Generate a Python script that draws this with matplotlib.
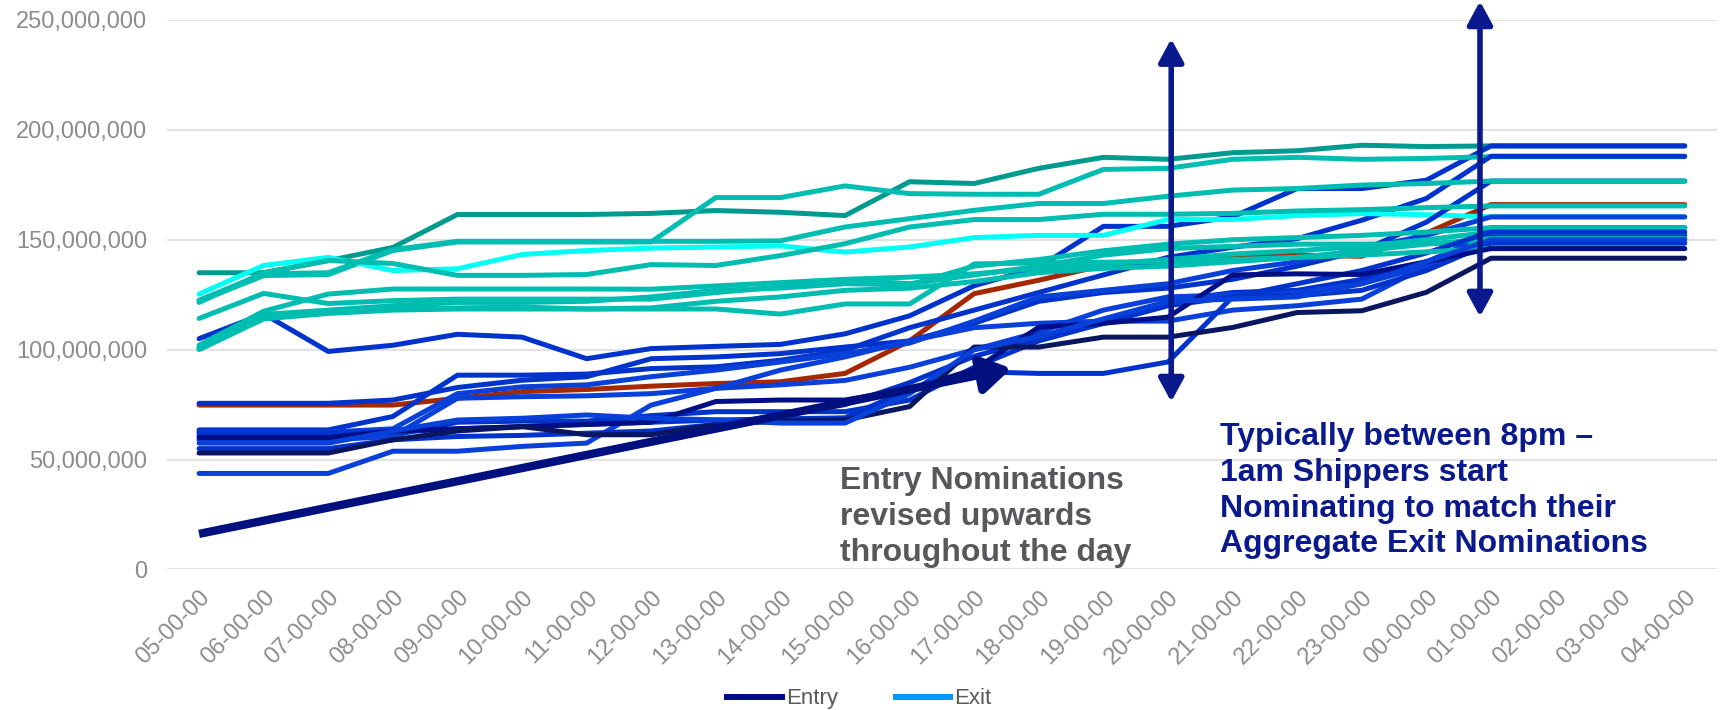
import matplotlib
matplotlib.use('Agg')
import matplotlib.pyplot as plt
from matplotlib.patches import FancyArrowPatch
from matplotlib.lines import Line2D
from matplotlib.ticker import FuncFormatter, MultipleLocator

plt.rcParams['font.family'] = ['Liberation Sans', 'DejaVu Sans']

categories = ['05-00-00', '06-00-00', '07-00-00', '08-00-00', '09-00-00', '10-00-00',
              '11-00-00', '12-00-00', '13-00-00', '14-00-00', '15-00-00', '16-00-00',
              '17-00-00', '18-00-00', '19-00-00', '20-00-00', '21-00-00', '22-00-00',
              '23-00-00', '00-00-00', '01-00-00', '02-00-00', '03-00-00', '04-00-00']

# Exit nominations (millions)
exit_a = [135, 135, 140.5, 146.5, 161.5, 161.5, 161.5, 162, 163.3, 162.5, 161, 176.4, 175.6, 182.5, 187.5, 186.6, 189.6, 190.5, 193, 192.4, 192.7, 192.7, 192.7, 192.7]
exit_b = [122, 133.7, 134.2, 145.1, 149, 149, 149, 149, 169.2, 169.2, 174.5, 171, 170.7, 170.7, 182, 182.5, 186.6, 187.5, 186.6, 187, 187.8, 187.8, 187.8, 187.8]
exit_c = [125.3, 138.3, 142, 136, 136.8, 143.3, 145.1, 146.2, 146.7, 147.2, 144.4, 146.7, 151, 152, 152, 159.2, 159.2, 161, 161.9, 161.4, 160.4, 160.4, 160.4, 160.4]
exit_d = [122.5, 134.5, 135, 145.5, 149.3, 149.3, 149.3, 149.3, 149.3, 149.5, 155.8, 159.6, 163.4, 166.5, 166.5, 169.8, 172.6, 173.3, 174.9, 175.6, 176.7, 176.7, 176.7, 176.7]
exit_e = [121.5, 135, 140.6, 139.2, 133.8, 133.8, 134.2, 138.7, 138.3, 142.8, 148.2, 155.8, 159.2, 159.2, 161.6, 161.6, 162, 163.1, 163.7, 164.6, 165.4, 165.4, 165.4, 165.4]
exit_f = [114.2, 125.6, 121, 122.3, 123, 123, 123, 123, 126, 128.5, 132, 130, 134, 138, 143, 146, 147, 148, 148, 148.3, 148.5, 148.5, 148.5, 148.5]
exit_g = [102, 117.5, 125.3, 127.6, 127.6, 127.6, 127.6, 127.5, 129, 130.5, 132, 133, 134.5, 137, 139, 141, 143.5, 145, 147, 150, 153.5, 153.5, 153.5, 153.5]
exit_h = [101, 116, 118, 120, 121.5, 121.5, 122, 124, 127, 128, 130, 129.5, 138, 141, 145, 148, 150, 151, 152, 153.5, 155.5, 155.5, 155.5, 155.5]
exit_i = [100, 114, 116.5, 118, 118.5, 118.5, 118.5, 119, 122, 124, 127, 128, 131, 135, 137, 138, 140, 142, 145, 148, 150.5, 150.5, 150.5, 150.5]
exit_j = [100.5, 116, 117, 118.5, 119, 119.4, 118.5, 118.5, 118.5, 116.2, 120.8, 120.8, 139, 139.5, 139.8, 140, 141, 142, 143, 144.5, 146, 146, 146, 146]

# Entry nominations (millions)
entry_a = [105, 116.3, 99.2, 102, 107, 105.7, 95.9, 100.5, 101.5, 102.4, 107.2, 115.4, 129.1, 137.5, 156.1, 156.1, 160.4, 173.3, 173.3, 177.1, 192.7, 192.7, 192.7, 192.7]
entry_b = [63.5, 63.5, 63.5, 69.6, 88.4, 88.4, 88.9, 91.4, 92.2, 95.2, 99.7, 110, 118, 126, 134, 142, 146.6, 150.5, 158.9, 168.8, 188, 188, 188, 188]
entry_c = [75.6, 75.6, 75.6, 77.1, 82.8, 86.1, 87.7, 95.9, 96.7, 98.2, 101.2, 104, 112, 122, 126, 128, 132, 138, 145, 158, 176.7, 176.7, 176.7, 176.7]
entry_d = [62.5, 62.5, 62.5, 64, 80, 83.1, 84, 87.7, 90.7, 94.4, 98.2, 103, 113, 124, 127, 130, 136, 140, 146, 152, 160.4, 160.4, 160.4, 160.4]
entry_e = [61, 61, 61, 61, 67, 67.5, 67.5, 70, 71.8, 71.8, 71.8, 77.1, 92, 104, 112, 122, 126, 127, 132, 140, 152, 152, 152, 152]
entry_f = [59, 59, 59, 60.5, 77.9, 78.6, 79, 80, 82.4, 84, 86, 92, 100, 108, 118, 124, 125, 126, 130, 138, 150.5, 150.5, 150.5, 150.5]
entry_g = [43.7, 43.7, 43.7, 53.8, 53.8, 56, 57.5, 74.8, 82.4, 90.7, 96.7, 104, 110, 112, 113, 113, 118, 120, 123, 138, 155.5, 155.5, 155.5, 155.5]
entry_h = [62, 62, 62, 62.5, 64, 65, 66, 67, 68, 68.5, 69, 82, 90, 89.2, 89.2, 94.4, 124, 124.5, 127, 136, 148.5, 148.5, 148.5, 148.5]
entry_i = [55, 55, 55, 59, 60.5, 61, 62, 63, 66, 70, 75, 85, 97, 105, 112, 120, 124, 130, 136, 144, 153.5, 153.5, 153.5, 153.5]
entry_j = [60, 60, 60, 63, 64, 65, 66, 67, 76.4, 77.1, 77.1, 82, 91, 110.2, 112, 114.8, 134, 134.5, 134.2, 140, 146, 146, 146, 146]
entry_k = [53, 53, 53, 59, 63, 65, 61.3, 61.3, 66, 67.5, 68, 74.1, 101.2, 101.2, 105.7, 105.7, 110.1, 116.9, 117.7, 126.1, 141.6, 141.6, 141.6, 141.6]
entry_l = [57.5, 57.5, 57.5, 63, 68, 68.8, 70.3, 68.8, 68.1, 66.6, 66.6, 80, 100, 106, 114, 122, 123, 124, 130, 140, 150, 150, 150, 150]
entry_red = [74.8, 74.8, 74.8, 74.8, 77.9, 80.9, 81.9, 83.4, 84.6, 85.4, 89.2, 104, 125.5, 131.6, 138.3, 138.3, 142.1, 143, 142.5, 153, 166, 166, 166, 166]

SCALE = 1e6
DARK_TEAL = '#009B8F'
TEAL = '#00BDB2'
CYAN = '#00FFF4'
BLUE = '#0033CC'
BLUE2 = '#0A40DA'
NAVY = '#000F85'
DNAVY = '#0B1660'
RED = '#A52800'

exit_list = [(exit_a, DARK_TEAL), (exit_b, TEAL), (exit_c, CYAN), (exit_d, TEAL),
             (exit_e, TEAL), (exit_f, TEAL), (exit_g, TEAL), (exit_h, TEAL),
             (exit_i, TEAL), (exit_j, TEAL)]
entry_list = [(entry_a, BLUE), (entry_b, BLUE), (entry_c, BLUE), (entry_d, BLUE2),
              (entry_e, BLUE), (entry_f, BLUE2), (entry_g, BLUE2), (entry_h, BLUE),
              (entry_i, BLUE), (entry_j, NAVY), (entry_k, DNAVY), (entry_l, BLUE2)]

fig = plt.figure(figsize=(17.21, 7.10), dpi=100)
ax = fig.add_axes([0.0969, 0.1979, 0.9008, 0.774])
xs = list(range(len(categories)))
LW = 3.6

def draw(vals, color, z):
    ax.plot(xs, [v * SCALE for v in vals], color=color, lw=LW,
            solid_joinstyle='round', solid_capstyle='round', zorder=z)

draw(entry_red, RED, 2)
n = max(len(exit_list), len(entry_list))
for k in range(n):
    if k < len(exit_list):
        draw(exit_list[k][0], exit_list[k][1], 2)
    if k < len(entry_list):
        draw(entry_list[k][0], entry_list[k][1], 2)

ax.set_xlim(-0.5, len(categories) - 0.5)
ax.set_ylim(0, 250e6)
ax.yaxis.set_major_locator(MultipleLocator(50e6))
ax.yaxis.set_major_formatter(FuncFormatter(lambda v, p: f'{v:,.0f}'))
ax.grid(axis='y', color='#E2E2E2', lw=1.5, zorder=0)
ax.set_axisbelow(True)
for s in ax.spines.values():
    s.set_visible(False)
ax.set_xticks(xs)
ax.set_xticklabels(categories, rotation=45, ha='right', rotation_mode='anchor')
ax.tick_params(axis='both', length=0, colors='#8C8C8C', labelsize=17)
ax.tick_params(axis='y', pad=14)
ax.tick_params(axis='x', pad=12)

# Annotation arrows
ax.add_patch(FancyArrowPatch((0, 16.2e6), (12.58, 91.5e6),
                             arrowstyle='-|>,head_length=0.9,head_width=0.55',
                             mutation_scale=20, lw=6, color='#00117F',
                             shrinkA=0, shrinkB=0, clip_on=False, zorder=5,
                             capstyle='butt'))
ax.add_patch(FancyArrowPatch((15.05, 76.3e6), (15.05, 241.4e6),
                             arrowstyle='<|-|>,head_length=0.7,head_width=0.38',
                             mutation_scale=20, lw=4, color='#0A1A8C',
                             shrinkA=0, shrinkB=0, clip_on=False, zorder=5))
ax.add_patch(FancyArrowPatch((19.83, 115e6), (19.83, 258.5e6),
                             arrowstyle='<|-|>,head_length=0.7,head_width=0.38',
                             mutation_scale=20, lw=4, color='#0A1A8C',
                             shrinkA=0, shrinkB=0, clip_on=False, zorder=5))

fig.text(840 / 1721, 1 - 466 / 710,
         'Entry Nominations\nrevised upwards\nthroughout the day',
         fontsize=23, fontweight='bold', color='#58585A', ha='left', va='top',
         linespacing=1.25)
fig.text(1220 / 1721, 1 - 422 / 710,
         'Typically between 8pm \u2013\n1am Shippers start\nNominating to match their\nAggregate Exit Nominations',
         fontsize=23, fontweight='bold', color='#0A1A8C', ha='left', va='top',
         linespacing=1.25)

handles = [Line2D([], [], color='#000C8A', lw=4.3), Line2D([], [], color='#0099FF', lw=4.3)]
fig.legend(handles, ['Entry', 'Exit'], loc='center', bbox_to_anchor=(0.4994, 0.0155),
           ncol=2, frameon=False, fontsize=16, handlelength=2.45, handletextpad=0.2,
           columnspacing=2.6, labelcolor='#595959')

fig.savefig('out.png', dpi=100)
